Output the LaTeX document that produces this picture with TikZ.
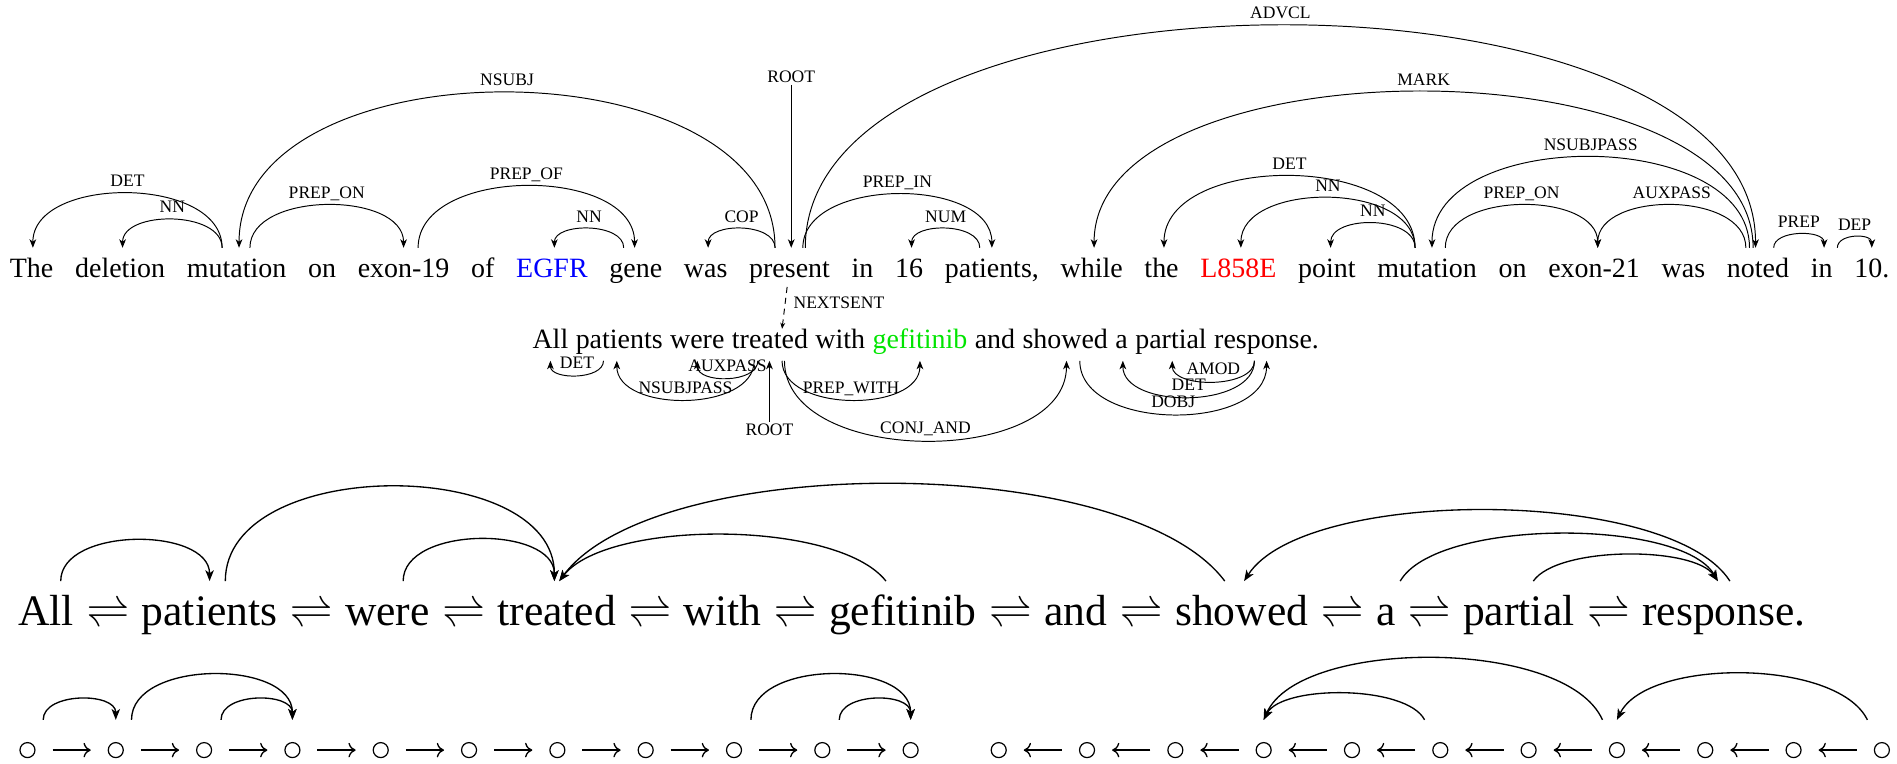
\RequirePackage{fix-cm}
\documentclass[tikz,border=0pt]{standalone}
\usepackage{fontspec}
\setmainfont{Liberation Serif}
\usetikzlibrary{arrows.meta}

\definecolor{genecol}{rgb}{0,0,1}
\definecolor{mutcol}{rgb}{1,0,0}
\definecolor{drugcol}{rgb}{0,0.9,0}

% a pair of harpoons whose gap grows with the font size
\newcommand\rlharp{\ensuremath{\mathrel{\vcenter{\hbox{\ooalign{\raise0.2em\hbox{$\rightharpoonup$}\crcr$\leftharpoondown$}}}}}}

\tikzset{
  wa/.style={inner sep=0pt, anchor=base west, text height=24pt, text depth=8pt,
             font=\fontsize{23.1}{28}\selectfont},
  wb/.style={inner sep=0pt, anchor=base west, text height=16pt, text depth=10pt,
             font=\fontsize{23.1}{28}\selectfont},
  wc/.style={inner sep=0pt, anchor=base west, text height=36.5pt, text depth=10pt,
             font=\fontsize{36}{42}\selectfont},
  lab/.style={font=\fontsize{14.5}{16}\selectfont, inner sep=1.5pt},
  arclab/.style={lab, anchor=base, yshift=5.5pt, pos=0.5},
  dep/.style={line width=0.8pt, -{Stealth[length=7pt,width=5.5pt,inset=2pt]}},
  bigdep/.style={line width=1.1pt, -{Stealth[length=9pt,width=7pt,inset=2.5pt]}},
  dot/.style={circle, draw, line width=1pt, minimum size=12.4pt, inner sep=0pt},
  seq/.style={line width=1.1pt, -{To[length=6pt,width=12pt]}, shorten <=14pt, shorten >=14pt},
}

\begin{document}
\begin{tikzpicture}[x=1pt, y=-1pt]
\path[fill=white, use as bounding box] (0,0) rectangle (1568,631);

% ---------------- first sentence ----------------
\node[wa] (t1) at (8,229) {The};
\node[wa] (t2) at ([xshift=17.6pt]t1.base east) {deletion};
\node[wa] (t3) at ([xshift=17.6pt]t2.base east) {mutation};
\node[wa] (t4) at ([xshift=17.6pt]t3.base east) {on};
\node[wa] (t5) at ([xshift=17.6pt]t4.base east) {exon-19};
\node[wa] (t6) at ([xshift=17.6pt]t5.base east) {of};
\node[wa, text=genecol] (t7) at ([xshift=17.6pt]t6.base east) {EGFR};
\node[wa] (t8) at ([xshift=17.6pt]t7.base east) {gene};
\node[wa] (t9) at ([xshift=17.6pt]t8.base east) {was};
\node[wa] (t10) at ([xshift=17.6pt]t9.base east) {present};
\node[wa] (t11) at ([xshift=17.6pt]t10.base east) {in};
\node[wa] (t12) at ([xshift=17.6pt]t11.base east) {16};
\node[wa] (t13) at ([xshift=17.6pt]t12.base east) {patients,};
\node[wa] (t14) at ([xshift=17.6pt]t13.base east) {while};
\node[wa] (t15) at ([xshift=17.6pt]t14.base east) {the};
\node[wa, text=mutcol] (t16) at ([xshift=17.6pt]t15.base east) {L858E};
\node[wa] (t17) at ([xshift=17.6pt]t16.base east) {point};
\node[wa] (t18) at ([xshift=17.6pt]t17.base east) {mutation};
\node[wa] (t19) at ([xshift=17.6pt]t18.base east) {on};
\node[wa] (t20) at ([xshift=17.6pt]t19.base east) {exon-21};
\node[wa] (t21) at ([xshift=17.6pt]t20.base east) {was};
\node[wa] (t22) at ([xshift=17.6pt]t21.base east) {noted};
\node[wa] (t23) at ([xshift=17.6pt]t22.base east) {in};
\node[wa] (t24) at ([xshift=17.6pt]t23.base east) {10.};

% dependency arcs above the first sentence
\draw[dep] ([xshift=-12pt]t3.north) .. controls +(0,-60) and +(0,-60) .. ([xshift=1pt]t1.north) node[arclab] {DET};
\draw[dep] ([xshift=-12pt]t3.north) .. controls +(0,-31) and +(0,-31) .. ([xshift=2pt]t2.north) node[arclab] {NN};
\draw[dep] ([xshift=-12pt]t10.north) .. controls +(0,-171) and +(0,-171) .. ([xshift=2pt]t3.north) node[arclab] {NSUBJ};
\draw[dep] ([xshift=11pt]t3.north) .. controls +(0,-47) and +(0,-47) .. (t5.north) node[arclab] {PREP\_ON};
\draw[dep] ([xshift=12pt]t5.north) .. controls +(0,-68) and +(0,-68) .. ([xshift=-1pt]t8.north) node[arclab] {PREP\_OF};
\draw[dep] ([xshift=-10pt]t8.north) .. controls +(0,-21) and +(0,-21) .. ([xshift=2pt]t7.north) node[arclab] {NN};
\draw[dep] ([xshift=-12pt]t10.north) .. controls +(0,-21) and +(0,-21) .. ([xshift=2pt]t9.north) node[arclab] {COP};
\node[lab] (root1) at (654,63.5) {ROOT};
\draw[dep] (root1.south) -- (root1.south |- t10.north);
\draw[dep] ([xshift=11pt]t10.north) .. controls +(0,-59) and +(0,-59) .. (t13.north) node[arclab] {PREP\_IN};
\draw[dep] ([xshift=-10pt]t13.north) .. controls +(0,-21) and +(0,-21) .. ([xshift=2pt]t12.north) node[arclab] {NUM};
\draw[dep] ([xshift=13pt]t10.north) .. controls +(0,-245) and +(0,-245) .. ([xshift=-2pt]t22.north) node[arclab] {ADVCL};
\draw[dep] ([xshift=-4pt]t22.north) .. controls +(0,-172) and +(0,-172) .. ([xshift=2pt]t14.north) node[arclab] {MARK};
\draw[dep] ([xshift=-10pt]t18.north) .. controls +(0,-79) and +(0,-79) .. ([xshift=2pt]t15.north) node[arclab] {DET};
\draw[dep] ([xshift=-10pt]t18.north) .. controls +(0,-55) and +(0,-55) .. ([xshift=2pt]t16.north) node[arclab] {NN};
\draw[dep] ([xshift=-10pt]t18.north) .. controls +(0,-27) and +(0,-27) .. ([xshift=3pt]t17.north) node[arclab] {NN};
\draw[dep] ([xshift=-7pt]t22.north) .. controls +(0,-100) and +(0,-100) .. ([xshift=4pt]t18.north) node[arclab] {NSUBJPASS};
\draw[dep] ([xshift=15pt]t18.north) .. controls +(0,-47) and +(0,-47) .. ([xshift=3pt]t20.north) node[arclab] {PREP\_ON};
\draw[dep] ([xshift=-10pt]t22.north) .. controls +(0,-47) and +(0,-47) .. ([xshift=3pt]t20.north) node[arclab] {AUXPASS};
\draw[dep] ([xshift=13pt]t22.north) .. controls +(0,-15) and +(0,-15) .. ([xshift=2pt]t23.north) node[arclab] {PREP};
\draw[dep] ([xshift=13pt]t23.north) .. controls +(0,-12) and +(0,-12) .. (t24.north) node[arclab] {DEP};

% ---------------- second sentence ----------------
\node[wb] (s1) at (440,288) {All};
\node[wb] (s2) at ([xshift=5.78pt]s1.base east) {patients};
\node[wb] (s3) at ([xshift=5.78pt]s2.base east) {were};
\node[wb] (s4) at ([xshift=5.78pt]s3.base east) {treated};
\node[wb] (s5) at ([xshift=5.78pt]s4.base east) {with};
\node[wb, text=drugcol] (s6) at ([xshift=5.78pt]s5.base east) {gefitinib};
\node[wb] (s7) at ([xshift=5.78pt]s6.base east) {and};
\node[wb] (s8) at ([xshift=5.78pt]s7.base east) {showed};
\node[wb] (s9) at ([xshift=5.78pt]s8.base east) {a};
\node[wb] (s10) at ([xshift=5.78pt]s9.base east) {partial};
\node[wb] (s11) at ([xshift=5.78pt]s10.base east) {response.};

\draw[dep, dashed, dash pattern=on 5pt off 4pt, -{Stealth[length=5pt,width=4pt,inset=1.5pt]}]
  ([xshift=-2pt]t10.south) -- ([xshift=10pt]s4.north)
  node[lab, pos=0.37, anchor=west, xshift=5pt] {NEXTSENT};

% dependency arcs below the second sentence
\draw[dep] ([xshift=-13pt]s2.south) .. controls +(0,16) and +(0,16) .. (s1.south) node[arclab] {DET};
\draw[dep] ([xshift=-13pt]s4.south) .. controls +(0,43) and +(0,43) .. ([xshift=-2pt]s2.south) node[arclab] {NSUBJPASS};
\draw[dep] ([xshift=-10pt]s4.south) .. controls +(0,19) and +(0,19) .. (s3.south) node[arclab] {AUXPASS};
\node[lab] (root2) at (636,355) {ROOT};
\draw[dep] (root2.north) -- (root2.north |- s4.south);
\draw[dep] ([xshift=10pt]s4.south) .. controls +(0,43) and +(0,43) .. (s6.south) node[arclab] {PREP\_WITH};
\draw[dep] ([xshift=12pt]s4.south) .. controls +(0,88) and +(0,88) .. ([xshift=1pt]s8.south) node[arclab] {CONJ\_AND};
\draw[dep] ([xshift=12pt]s8.south) .. controls +(0,59) and +(0,59) .. (s11.south) node[arclab] {DOBJ};
\draw[dep] ([xshift=-10pt]s11.south) .. controls +(0,40) and +(0,40) .. ([xshift=1pt]s9.south) node[arclab] {DET};
\draw[dep] ([xshift=-10pt]s11.south) .. controls +(0,23) and +(0,23) .. ([xshift=1pt]s10.south) node[arclab] {AMOD};

% ---------------- harpoon-linked sentence ----------------
\node[wc] (u1) at (15,517) {All};
\node[wc] (h1) at ([xshift=10pt]u1.base east) {\rlharp};
\node[wc] (u2) at ([xshift=10pt]h1.base east) {patients};
\node[wc] (h2) at ([xshift=10pt]u2.base east) {\rlharp};
\node[wc] (u3) at ([xshift=10pt]h2.base east) {were};
\node[wc] (h3) at ([xshift=10pt]u3.base east) {\rlharp};
\node[wc] (u4) at ([xshift=10pt]h3.base east) {treated};
\node[wc] (h4) at ([xshift=10pt]u4.base east) {\rlharp};
\node[wc] (u5) at ([xshift=10pt]h4.base east) {with};
\node[wc] (h5) at ([xshift=10pt]u5.base east) {\rlharp};
\node[wc] (u6) at ([xshift=10pt]h5.base east) {gefitinib};
\node[wc] (h6) at ([xshift=10pt]u6.base east) {\rlharp};
\node[wc] (u7) at ([xshift=10pt]h6.base east) {and};
\node[wc] (h7) at ([xshift=10pt]u7.base east) {\rlharp};
\node[wc] (u8) at ([xshift=10pt]h7.base east) {showed};
\node[wc] (h8) at ([xshift=10pt]u8.base east) {\rlharp};
\node[wc] (u9) at ([xshift=10pt]h8.base east) {a};
\node[wc] (h9) at ([xshift=10pt]u9.base east) {\rlharp};
\node[wc] (u10) at ([xshift=10pt]h9.base east) {partial};
\node[wc] (h10) at ([xshift=10pt]u10.base east) {\rlharp};
\node[wc] (u11) at ([xshift=10pt]h10.base east) {response.};

\draw[bigdep] ([xshift=12pt]u1.north) .. controls +(0,-45) and +(0,-45) .. (u2.north);
\draw[bigdep] ([xshift=13pt]u2.north) .. controls +(0,-104) and +(0,-104) .. ([xshift=-2pt]u4.north);
\draw[bigdep] ([xshift=13pt]u3.north) .. controls +(0,-46) and +(0,-46) .. ([xshift=-2pt]u4.north);
\draw[bigdep] ([xshift=-14pt]u6.north) .. controls +(-40,-51) and +(40,-51) .. ([xshift=2pt]u4.north);
\draw[bigdep] ([xshift=-14pt]u8.north) .. controls +(-80,-107) and +(80,-107) .. ([xshift=2pt]u4.north);
\draw[bigdep] ([xshift=5pt]u11.north) .. controls +(-50,-78) and +(50,-78) .. ([xshift=2pt]u8.north);
\draw[bigdep] ([xshift=12pt]u9.north) .. controls +(30,-52) and +(-30,-52) .. ([xshift=-5pt]u11.north);
\draw[bigdep] ([xshift=12pt]u10.north) .. controls +(20,-29) and +(-20,-29) .. ([xshift=-5pt]u11.north);

% ---------------- state sequences ----------------
\foreach \i in {1,...,11} {
  \node[dot] (c\i) at ({22.7+73*(\i-1)},620) {};
  \node[dot] (r\i) at ({825.5+73*(\i-1)},620) {};
}
\foreach \i [count=\j from 2] in {1,...,10} {
  \draw[seq] (c\i) -- (c\j);
  \draw[seq] (r\j) -- (r\i);
}

\draw[bigdep] ([xshift=13pt,yshift=25pt]c1.center) .. controls +(0,-23) and +(0,-23) .. ([yshift=25pt]c2.center);
\draw[bigdep] ([xshift=13pt,yshift=25pt]c2.center) .. controls +(0,-50) and +(0,-50) .. ([yshift=25pt]c4.center);
\draw[bigdep] ([xshift=14pt,yshift=25pt]c3.center) .. controls +(0,-23) and +(0,-23) .. ([yshift=25pt]c4.center);
\draw[bigdep] ([xshift=14pt,yshift=25pt]c9.center) .. controls +(0,-50) and +(0,-50) .. ([yshift=25pt]c11.center);
\draw[bigdep] ([xshift=14pt,yshift=25pt]c10.center) .. controls +(0,-23) and +(0,-23) .. ([yshift=25pt]c11.center);

\draw[bigdep] ([xshift=-12pt,yshift=25pt]r8.center) .. controls +(-30,-68) and +(30,-68) .. ([yshift=25pt]r4.center);
\draw[bigdep] ([xshift=-13pt,yshift=25pt]r6.center) .. controls +(-15,-29) and +(15,-29) .. ([yshift=25pt]r4.center);
\draw[bigdep] ([xshift=-12pt,yshift=25pt]r11.center) .. controls +(-25,-51) and +(25,-51) .. ([yshift=25pt]r8.center);

\end{tikzpicture}
\end{document}
